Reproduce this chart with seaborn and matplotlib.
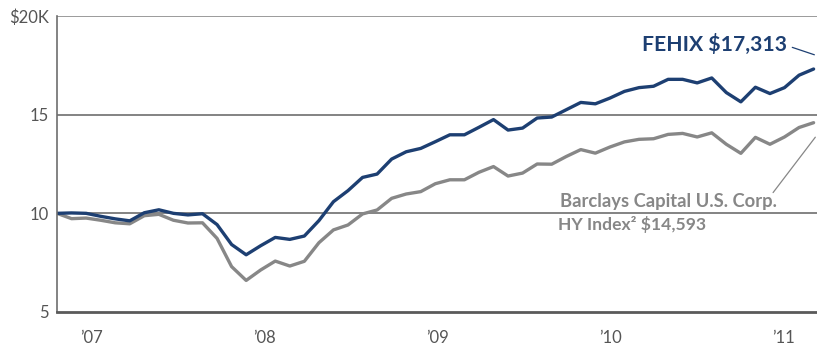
import matplotlib
matplotlib.use("Agg")
import matplotlib.pyplot as plt
import seaborn as sns
import pandas as pd

# Growth of $10,000, monthly values in $K
fehix = [10.0, 10.02, 10.0, 9.85, 9.72, 9.62, 10.03, 10.18, 10.0, 9.92,
         9.98, 9.43, 8.42, 7.9, 8.36, 8.78, 8.68, 8.85, 9.63, 10.59,
         11.15, 11.82, 11.99, 12.75, 13.12, 13.29, 13.63, 13.98, 13.98, 14.36,
         14.75, 14.22, 14.32, 14.83, 14.88, 15.25, 15.62, 15.55, 15.84, 16.18,
         16.37, 16.44, 16.79, 16.79, 16.61, 16.86, 16.12, 15.65, 16.39, 16.07,
         16.37, 17.0, 17.313]
barclays = [10.0, 9.73, 9.76, 9.65, 9.52, 9.47, 9.88, 9.95, 9.65, 9.51,
            9.52, 8.73, 7.3, 6.6, 7.13, 7.58, 7.33, 7.57, 8.51, 9.16,
            9.41, 9.97, 10.17, 10.76, 10.98, 11.1, 11.5, 11.7, 11.7, 12.08,
            12.37, 11.89, 12.04, 12.5, 12.49, 12.88, 13.23, 13.05, 13.36, 13.62,
            13.75, 13.78, 14.0, 14.05, 13.87, 14.08, 13.5, 13.04, 13.85, 13.5,
            13.87, 14.35, 14.593]
year_labels = ["\u201907", "\u201908", "\u201909", "\u201910", "\u201911"]
y_labels = ["5", "10", "15", "$20K"]

months = list(range(len(fehix)))
df = pd.DataFrame({
    "month": months * 2,
    "value": fehix + barclays,
    "series": ["FEHIX"] * len(fehix) + ["Barclays"] * len(barclays),
})

navy = "#1d3f72"
grey = "#878787"

sns.set_style("white")
plt.rcParams["font.family"] = ["Lato", "DejaVu Sans"]

fig = plt.figure(figsize=(8.17, 3.48), dpi=100)
ax = fig.add_axes([57 / 817, 1 - 312 / 348, 1 - 57 / 817, (312 - 16) / 348])

sns.lineplot(data=df, x="month", y="value", hue="series",
             palette={"FEHIX": navy, "Barclays": grey},
             hue_order=["Barclays", "FEHIX"], linewidth=2.4,
             legend=False, ax=ax)

ax.set_xlim(0, 760 / 14.55)
ax.set_ylim(5, 20)
ax.set_xlabel("")
ax.set_ylabel("")

# horizontal rules
for yv, c, lw in [(10, "#6e6e6e", 1.2), (15, "#6e6e6e", 1.2), (20, "#8a8a8a", 1.2)]:
    ax.axhline(yv, color=c, lw=lw, zorder=0)

for s in ["top", "right"]:
    ax.spines[s].set_visible(False)
ax.spines["left"].set_color("#6e6e6e")
ax.spines["left"].set_linewidth(1.2)
ax.spines["bottom"].set_color("#5a5a5a")
ax.spines["bottom"].set_linewidth(2.0)

ax.set_yticks([5, 10, 15, 20])
ax.set_yticklabels(y_labels, fontsize=12, color="#555555")
ax.tick_params(axis="y", length=0, pad=6)

tick_px = [91.4, 264.8, 437.3, 610.7, 784.0]
ax.set_xticks([(p - 57) / 14.55 for p in tick_px])
ax.set_xticklabels(year_labels, fontsize=12, color="#555555")
ax.tick_params(axis="x", length=5, width=1, color="#777777", direction="out", pad=8)

# annotations
ax.text(0.961, 0.905, "FEHIX $17,313", transform=ax.transAxes, ha="right", va="center",
        fontsize=15.2, fontweight="bold", color=navy)
ax.annotate("", xy=(1.0, 0.866), xytext=(0.964, 0.897), xycoords="axes fraction",
            arrowprops=dict(arrowstyle="-", color=navy, lw=0.9))

ax.text(0.947, 0.372, "Barclays Capital U.S. Corp.", transform=ax.transAxes,
        ha="right", va="center", fontsize=13.2, fontweight="bold", color=grey)
ax.text(0.659, 0.294, "HY Index\u00b2 $14,593", transform=ax.transAxes,
        ha="left", va="center", fontsize=12.6, fontweight="bold", color=grey)
ax.annotate("", xy=(1.0, 0.598), xytext=(0.940, 0.396), xycoords="axes fraction",
            arrowprops=dict(arrowstyle="-", color=grey, lw=0.9))

fig.savefig("out.png", dpi=100)
